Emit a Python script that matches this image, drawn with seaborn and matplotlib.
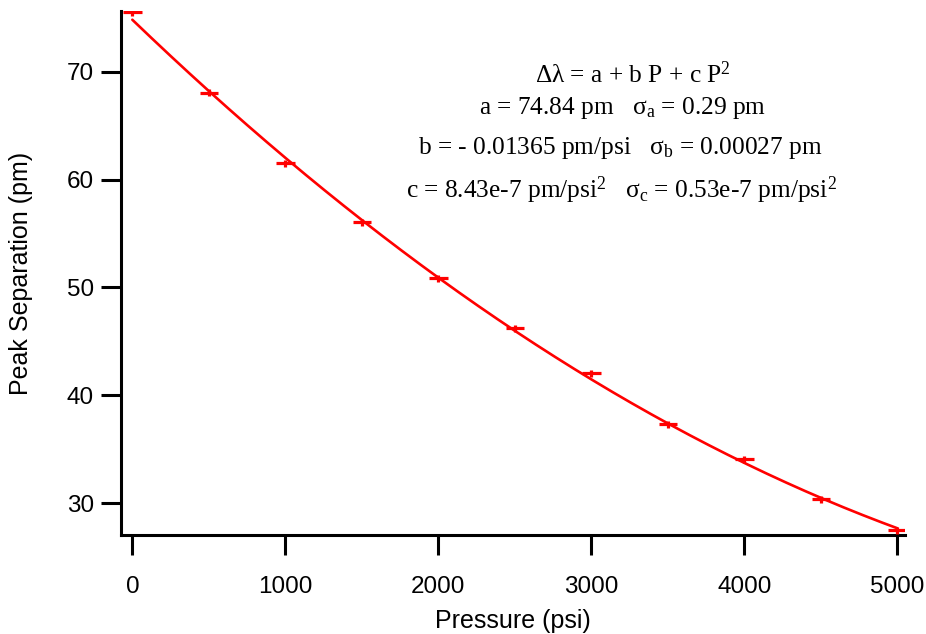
import numpy as np
import pandas as pd
import matplotlib
matplotlib.use("Agg")
import matplotlib.pyplot as plt
import seaborn as sns

pressure = [0, 500, 1000, 1500, 2000, 2500, 3000, 3500, 4000, 4500, 5000]
separation = [75.52, 68.05, 61.53, 56.05, 50.85, 46.21, 42.04, 37.33, 34.06, 30.37, 27.49]
p_err = 60      # psi, horizontal bar half width
s_err = 0.32    # pm, vertical bar half height

# fit coefficients shown in the annotation
fit_a = 74.84
fit_b = -0.01365
fit_c = 8.43e-7

x_ticks = [0, 1000, 2000, 3000, 4000, 5000]
y_ticks = [30, 40, 50, 60, 70]

sns.set_style("ticks")
plt.rcParams['font.family'] = ['Liberation Sans', 'DejaVu Sans']
plt.rcParams['mathtext.default'] = 'regular'
plt.rcParams['text.color'] = 'black'
plt.rcParams['axes.labelcolor'] = 'black'

fig = plt.figure(figsize=(9.26, 6.34), dpi=100)
ax = fig.add_axes([121 / 926, 1 - 535 / 634, 784 / 926, 524 / 634])

# fit curve from the stated coefficients
p_fit = np.linspace(0, 5000, 200)
fit_df = pd.DataFrame({"P": p_fit, "sep": fit_a + fit_b * p_fit + fit_c * p_fit ** 2})
sns.lineplot(data=fit_df, x="P", y="sep", color="#ff0000", linewidth=1.9, ax=ax)

ax.errorbar(pressure, separation, xerr=p_err, yerr=s_err, fmt="none",
            ecolor="#ff0000", elinewidth=2.3, capsize=0, zorder=3)

ax.set_xlim(-74, 5050)
ax.set_ylim(27.04, 75.65)
ax.set_xticks(x_ticks)
ax.set_yticks(y_ticks)
ax.set_xticklabels([str(t) for t in x_ticks])
ax.set_yticklabels([str(t) for t in y_ticks])

for side in ["top", "right"]:
    ax.spines[side].set_visible(False)
for side in ["left", "bottom"]:
    ax.spines[side].set_linewidth(2.2)
    ax.spines[side].set_color("black")

ax.tick_params(axis="both", direction="out", length=14.5, width=2.2,
               colors="black", labelsize=17.5)
ax.tick_params(axis="y", pad=5)
ax.tick_params(axis="x", pad=15)

ax.set_xlabel("Pressure (psi)", fontsize=18, labelpad=8)
ax.set_ylabel("Peak Separation (pm)", fontsize=18, labelpad=24)

# fit annotation (serif)
serif = ['Liberation Serif', 'DejaVu Serif']
lines = [
    (633, 75, "Δλ = a + b P + c P$^2$"),
    (623, 108, "a = 74.84 pm   σ$_a$ = 0.29 pm"),
    (620, 148, "b = - 0.01365 pm/psi   σ$_b$ = 0.00027 pm"),
    (621, 190, "c = 8.43e-7 pm/psi$^2$   σ$_c$ = 0.53e-7 pm/psi$^2$"),
]
for px, py, txt in lines:
    fig.text(px / 926, 1 - py / 634, txt, ha="center", va="center",
             fontsize=18.3, family=serif, color="black")

fig.savefig("out.png", dpi=100, facecolor="white")
